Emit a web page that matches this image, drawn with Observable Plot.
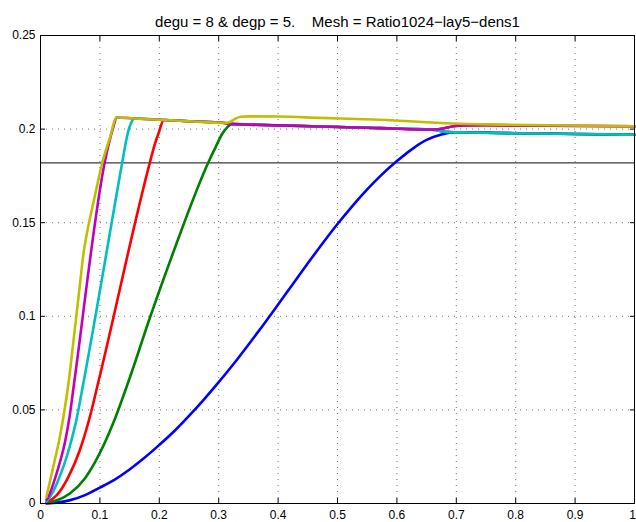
<!DOCTYPE html>
<html>
<head>
<meta charset="utf-8">
<script src="https://cdn.jsdelivr.net/npm/d3@7"></script>
<script src="https://cdn.jsdelivr.net/npm/@observablehq/plot@0.6"></script>
<style>
  html, body { margin: 0; padding: 0; background: #fff; }
</style>
</head>
<body>
<div id="chart"></div>
<script>
const titleText = "degu = 8 & degp = 5.\u00a0\u00a0\u00a0\u00a0Mesh = Ratio1024\u2212lay5\u2212dens1";

const xTicks = [0, 0.1, 0.2, 0.3, 0.4, 0.5, 0.6, 0.7, 0.8, 0.9, 1];
const xTickLabels = ["0", "0.1", "0.2", "0.3", "0.4", "0.5", "0.6", "0.7", "0.8", "0.9", "1"];
const yTicks = [0, 0.05, 0.1, 0.15, 0.2, 0.25];
const yTickLabels = ["0", "0.05", "0.1", "0.15", "0.2", "0.25"];

const refLevel = [0.182];

const blueX = [0.01,0.03,0.05,0.075,0.1,0.125,0.15,0.175,0.2,0.225,0.25,0.275,0.3,0.325,0.35,0.375,0.4,0.425,0.45,0.475,0.5,0.525,0.55,0.575,0.6,0.625,0.65,0.675,0.7,0.75,0.8,0.85,0.9,0.95,1.0];
const blueY = [0,0.0006,0.0018,0.0045,0.0085,0.0128,0.0182,0.0244,0.0313,0.0386,0.0468,0.0555,0.0648,0.0745,0.0848,0.0954,0.1063,0.1173,0.1283,0.139,0.1493,0.1589,0.1678,0.1758,0.1829,0.1892,0.1942,0.1971,0.1983,0.1981,0.1978,0.1976,0.1974,0.1972,0.197];

const greenX = [0.01,0.03,0.05,0.075,0.1,0.125,0.1487,0.185,0.2245,0.2823,0.295,0.306,0.314,0.322,0.4,0.471,0.572,0.66,0.675,0.69,0.72,0.8,0.9,1.0];
const greenY = [0.0003,0.002,0.0055,0.0135,0.027,0.045,0.0657,0.1,0.135,0.182,0.1905,0.1975,0.2008,0.2026,0.2020,0.2014,0.2005,0.1997,0.1988,0.1984,0.1982,0.1978,0.1974,0.1970];

const redX = [0.01,0.027,0.0466,0.066,0.082,0.098,0.184,0.192,0.199,0.2076,0.25,0.31,0.32,0.4,0.471,0.572,0.66,0.68,0.695,0.71,0.75,0.85,1.0];
const redY = [0.0005,0.0043,0.014,0.0283,0.045,0.0657,0.182,0.1915,0.198,0.2049,0.2042,0.2033,0.2028,0.2020,0.2014,0.2005,0.1997,0.2005,0.2015,0.2020,0.2021,0.2018,0.2015];

const cyanX = [0.01,0.02,0.03,0.04,0.05,0.06,0.073,0.1375,0.144,0.1487,0.153,0.157,0.2076,0.25,0.31,0.32,0.4,0.471,0.572,0.66,0.675,0.69,0.72,0.8,0.9,1.0];
const cyanY = [0.001,0.0055,0.0125,0.021,0.0315,0.044,0.0657,0.182,0.1935,0.200,0.2035,0.2057,0.2049,0.2042,0.2033,0.2028,0.2020,0.2014,0.2005,0.1997,0.1988,0.1984,0.1982,0.1978,0.1974,0.1970];

const magentaX = [0.01,0.013,0.02,0.027,0.034,0.041,0.049,0.0572,0.108,0.113,0.118,0.123,0.128,0.157,0.2076,0.25,0.31,0.32,0.4,0.471,0.572,0.66,0.68,0.695,0.71,0.75,0.85,1.0];
const magentaY = [0.002,0.0034,0.009,0.0159,0.0235,0.0325,0.0465,0.0657,0.182,0.1895,0.1960,0.2015,0.2062,0.2057,0.2049,0.2042,0.2033,0.2028,0.2020,0.2014,0.2005,0.1997,0.2005,0.2015,0.2020,0.2021,0.2018,0.2015];

const yellowX = [0.01,0.0213,0.0314,0.04,0.0477,0.055,0.065,0.073,0.0786,0.092,0.104,0.117,0.128,0.157,0.2076,0.25,0.31,0.318,0.326,0.337,0.35,0.4,0.471,0.572,0.695,0.774,1.0];
const yellowY = [0.0035,0.0194,0.0337,0.049,0.0657,0.0855,0.113,0.135,0.145,0.165,0.182,0.1955,0.2062,0.2057,0.2049,0.2042,0.2033,0.2037,0.2052,0.2066,0.2068,0.2067,0.2060,0.2050,0.2030,0.2024,0.2015];

const seriesNames = ["blue", "green", "red", "cyan", "magenta", "yellow"];
const seriesColors = ["#0000ff", "#008000", "#ff0000", "#00bfbf", "#bf00bf", "#bfbf00"];
const seriesXs = [blueX, greenX, redX, cyanX, magentaX, yellowX];
const seriesYs = [blueY, greenY, redY, cyanY, magentaY, yellowY];

const lineMarks = seriesNames.map((name, k) => {
  const rows = seriesXs[k].map((x, i) => ({series: name, x, y: seriesYs[k][i]}));
  return Plot.line(rows, {x: "x", y: "y", curve: "monotone-x", stroke: seriesColors[k], strokeWidth: 2.6, strokeLinejoin: "round", strokeLinecap: "round"});
});

const gridStyle = {stroke: "#000", strokeOpacity: 0.55, strokeDasharray: "1,5", strokeWidth: 1};

const chart = Plot.plot({
  width: 636,
  height: 522,
  marginTop: 35,
  marginLeft: 40,
  marginRight: 2,
  marginBottom: 19,
  style: {fontFamily: "'Liberation Sans', Arial, Helvetica, sans-serif", fontSize: "12px", background: "#fff", color: "#000"},
  x: {domain: [0, 1]},
  y: {domain: [0, 0.25]},
  marks: [
    Plot.gridX(xTicks.slice(1, -1), gridStyle),
    Plot.gridY(yTicks.slice(1, -1), gridStyle),
    Plot.ruleY(refLevel, {stroke: "#3a3a3a", strokeWidth: 1.2}),
    ...lineMarks,
    Plot.frame({stroke: "#000", strokeWidth: 1}),
    // tick marks, drawn inward on all four sides
    Plot.axisX({ticks: xTicks, anchor: "bottom", tickSize: 5, dy: -5, fill: "none", label: null}),
    Plot.axisX({ticks: xTicks, anchor: "top", tickSize: 5, dy: 5, fill: "none", label: null}),
    Plot.axisY({ticks: yTicks, anchor: "left", tickSize: 5, dx: 5, fill: "none", label: null}),
    Plot.axisY({ticks: yTicks, anchor: "right", tickSize: 5, dx: -5, fill: "none", label: null}),
    // tick labels
    Plot.axisX({ticks: xTicks.slice(0, -1), anchor: "bottom", tickSize: 0, tickPadding: 7, stroke: "none", label: null, fontSize: 12, tickFormat: (d, i) => xTickLabels[i]}),
    Plot.axisX({ticks: xTicks.slice(-1), anchor: "bottom", tickSize: 0, tickPadding: 7, dx: -2, stroke: "none", label: null, fontSize: 12, tickFormat: () => xTickLabels[xTickLabels.length - 1]}),
    Plot.axisY({ticks: yTicks, anchor: "left", tickSize: 0, tickPadding: 5, stroke: "none", label: null, fontSize: 12, tickFormat: (d, i) => yTickLabels[i]}),
    Plot.text([titleText], {frameAnchor: "top", dy: -19, fontSize: 15, fill: "#000"})
  ]
});

document.getElementById("chart").appendChild(chart);
</script>
</body>
</html>
